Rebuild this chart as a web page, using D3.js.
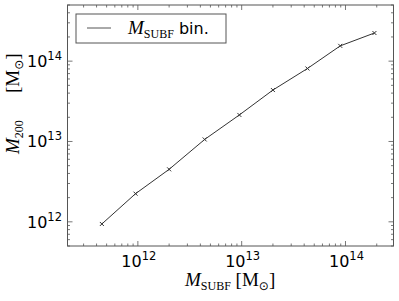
<!DOCTYPE html>
<html>
<head>
<meta charset="utf-8">
<script src="https://cdn.jsdelivr.net/npm/d3@7"></script>
<style>
  body { margin: 0; background: #fff; }
  svg { display: block; }
</style>
</head>
<body>
<svg id="chart" width="399" height="301"></svg>
<script>
// binned masses
const subfMass = [4.5e11, 9.5e11, 2.0e12, 4.4e12, 9.5e12, 2.0e13, 4.3e13, 8.9e13, 1.9e14];
const m200 = [9.4e11, 2.24e12, 4.5e12, 1.06e13, 2.14e13, 4.37e13, 8.1e13, 1.55e14, 2.24e14];
const xMajor = [12, 13, 14];
const yMajor = [12, 13, 14];

const width = 399, height = 301;
const padL = 67.5, padR = 393.5, padT = 5, padB = 246;

const svg = d3.select('#chart');

const x = d3.scaleLog().domain([2.1e11, 2.9e14]).range([padL, padR]);
const y = d3.scaleLog().domain([5e11, 5e14]).range([padB, padT]);

const data = subfMass.map((d, i) => ({ x: d, y: m200[i] }));

// minor ticks 2..9 inside each decade
const minorTicks = (scale) => {
  const [a, b] = scale.domain();
  const out = [];
  for (let e = Math.floor(Math.log10(a)); e <= Math.ceil(Math.log10(b)); e++) {
    for (let k = 1; k <= 9; k++) {
      const v = k * Math.pow(10, e);
      if (v >= a && v <= b) out.push({ v, major: k === 1 });
    }
  }
  return out;
};

const frame = '#555';
const tickG = svg.append('g').attr('stroke', frame).attr('stroke-width', 0.8);

minorTicks(x).forEach(t => {
  const len = t.major ? 5 : 2.5;
  const px = x(t.v);
  tickG.append('line').attr('x1', px).attr('x2', px).attr('y1', padB).attr('y2', padB - len);
  tickG.append('line').attr('x1', px).attr('x2', px).attr('y1', padT).attr('y2', padT + len);
});
minorTicks(y).forEach(t => {
  const len = t.major ? 5 : 2.5;
  const py = y(t.v);
  tickG.append('line').attr('y1', py).attr('y2', py).attr('x1', padL).attr('x2', padL + len);
  tickG.append('line').attr('y1', py).attr('y2', py).attr('x1', padR).attr('x2', padR - len);
});

svg.append('rect')
  .attr('x', padL).attr('y', padT)
  .attr('width', padR - padL).attr('height', padB - padT)
  .attr('fill', 'none').attr('stroke', frame).attr('stroke-width', 1);

// tick labels 10^n
const sans = 'DejaVu Sans, sans-serif';
xMajor.forEach(e => {
  const t = svg.append('text')
    .attr('x', x(Math.pow(10, e)) + 1).attr('y', 267)
    .attr('text-anchor', 'middle')
    .attr('font-family', sans).attr('font-size', 16).attr('fill', '#000');
  t.append('tspan').text('10');
  t.append('tspan').attr('dy', -7).attr('font-size', 11.5).text(e);
});
yMajor.forEach(e => {
  const t = svg.append('text')
    .attr('x', 62).attr('y', y(Math.pow(10, e)) + 6)
    .attr('text-anchor', 'end')
    .attr('font-family', sans).attr('font-size', 16).attr('fill', '#000');
  t.append('tspan').text('10');
  t.append('tspan').attr('dy', -7).attr('font-size', 11.5).text(e);
});

// data line + x markers
const line = d3.line().x(d => x(d.x)).y(d => y(d.y));
svg.append('path')
  .datum(data)
  .attr('d', line)
  .attr('fill', 'none')
  .attr('stroke', '#333')
  .attr('stroke-width', 1);

svg.selectAll('.mark')
  .data(data)
  .enter()
  .append('path')
  .attr('class', 'mark')
  .attr('transform', d => `translate(${x(d.x)},${y(d.y)})`)
  .attr('d', 'M-2,-2L2,2M-2,2L2,-2')
  .attr('stroke', '#333')
  .attr('stroke-width', 1);

// axis labels (math style)
const serif = 'Liberation Serif, DejaVu Serif, serif';
const mathLabel = (g, sub) => {
  g.append('tspan').attr('font-style', 'italic').text('M');
  g.append('tspan').attr('font-size', 12).attr('dy', 4).text(sub);
};
const solarUnit = (g) => {
  g.append('tspan').text('[M');
  g.append('tspan').attr('font-size', 12).attr('dy', 4).attr('font-family', 'DejaVu Sans').text('\u2299');
  g.append('tspan').attr('dy', -4).text(']');
};

const xl = svg.append('text')
  .attr('x', 185).attr('y', 286)
  .attr('font-family', serif).attr('font-size', 19).attr('fill', '#000');
mathLabel(xl, 'SUBF');
xl.append('tspan').attr('dy', -4).text(' ');
solarUnit(xl);

const yl1 = svg.append('text')
  .attr('transform', 'rotate(-90)')
  .attr('x', -154).attr('y', 19)
  .attr('font-family', serif).attr('font-size', 19).attr('fill', '#000');
mathLabel(yl1, '200');
const yl2 = svg.append('text')
  .attr('transform', 'rotate(-90)')
  .attr('x', -93).attr('y', 19)
  .attr('font-family', serif).attr('font-size', 19).attr('fill', '#000');
solarUnit(yl2);

// legend
const lg = svg.append('g');
lg.append('rect')
  .attr('x', 76).attr('y', 14).attr('width', 150).attr('height', 29)
  .attr('fill', '#fff').attr('stroke', frame).attr('stroke-width', 1);
lg.append('line')
  .attr('x1', 87).attr('x2', 111).attr('y1', 28).attr('y2', 28)
  .attr('stroke', '#555').attr('stroke-width', 1);
const lt = lg.append('text')
  .attr('x', 128).attr('y', 34)
  .attr('font-family', serif).attr('font-size', 19).attr('fill', '#000');
mathLabel(lt, 'SUBF');
lt.append('tspan').attr('dy', -4).attr('font-family', sans).attr('font-size', 16).text(' bin.');
</script>
</body>
</html>
